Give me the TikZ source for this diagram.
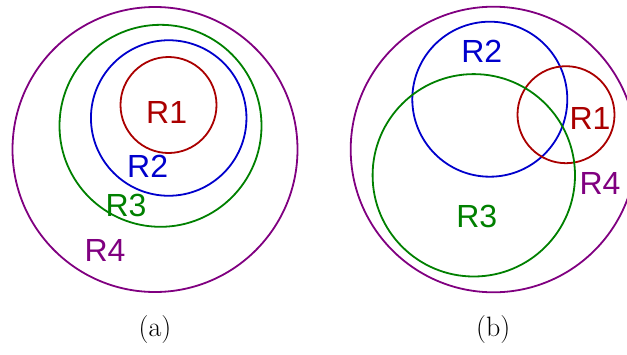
\documentclass[tikz,border=0pt]{standalone}
\usepackage{fontspec}
\newfontfamily\labfont{Liberation Sans}
\definecolor{cR}{RGB}{170,0,0}
\definecolor{cB}{RGB}{0,0,204}
\definecolor{cG}{RGB}{0,128,0}
\definecolor{cP}{RGB}{128,0,128}
\begin{document}
\begin{tikzpicture}[x=1pt,y=-1pt,
  ring/.style={circle,draw,line width=1.8pt,inner sep=0pt,minimum size=#1},
  lab/.style={font=\labfont\fontsize{32}{35}\selectfont,inner sep=0pt},
  subcap/.style={font=\fontsize{28}{32}\selectfont,inner sep=0pt}]
\useasboundingbox (0,0) rectangle (627,354);
\clip (0,0) rectangle (627,354);
% (a)
\node[ring=285pt,cP] (a4) at (155,149.5) {};
\node[ring=202pt,cG] (a3) at (160.5,125.8) {};
\node[ring=155.5pt,cB] (a2) at (168.7,118) {};
\node[ring=96pt,cR] (a1) at (168.5,105) {};
\node[lab,cR] (la1) at (166.7,112.3) {R1};
\node[lab,cB] (la2) at (147.7,166.7) {R2};
\node[lab,cG] (la3) at (126,205) {R3};
\node[lab,cP] (la4) at (105,250.7) {R4};
\node[subcap] (capa) at (155,330) {(a)};
% (b)
\node[ring=285.6pt,cP] (b4) at (493.5,149.5) {};
\node[ring=155pt,cB] (b2) at (489.8,99.2) {};
\node[ring=97pt,cR] (b1) at (566,114.7) {};
\node[ring=202.4pt,cG] (b3) at (473.8,175.3) {};
\node[lab,cB] (lb2) at (481.7,51.7) {R2};
\node[lab,cR] (lb1) at (590,118.3) {R1};
\node[lab,cP] (lb4) at (600,183.3) {R4};
\node[lab,cG] (lb3) at (476.7,216.7) {R3};
\node[subcap] (capb) at (493.3,330) {(b)};
\end{tikzpicture}
\end{document}
